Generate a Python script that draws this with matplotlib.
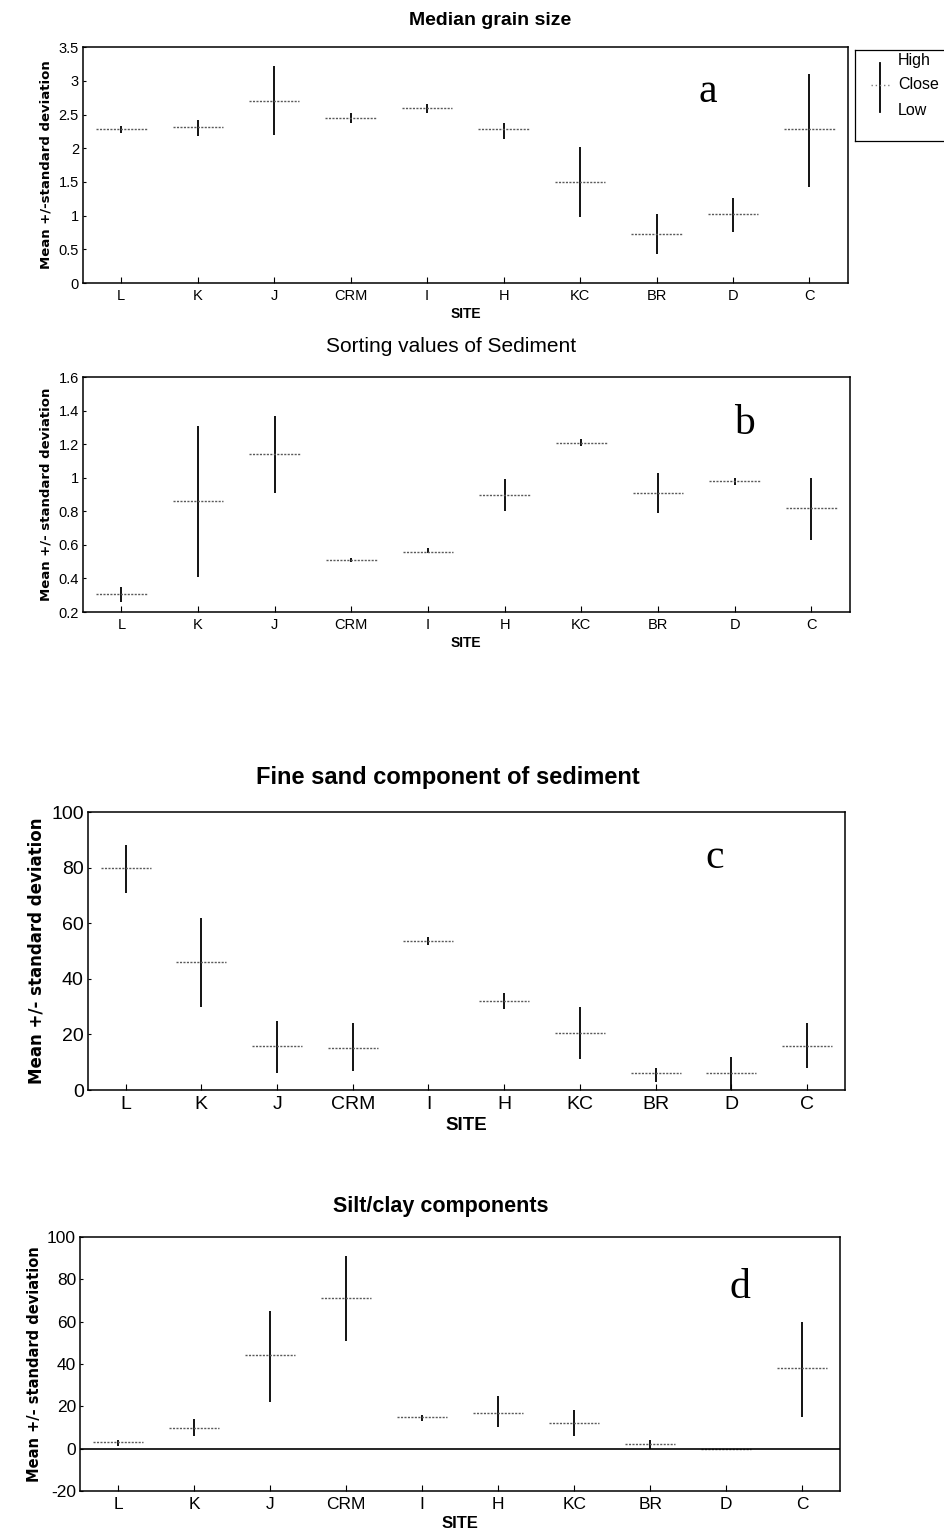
import matplotlib
matplotlib.use('Agg')
import matplotlib.pyplot as plt
import numpy as np

plt.rcParams['font.family'] = ['Liberation Sans', 'DejaVu Sans']

# 자료: 사이트별 평균 +/- 표준편차
sites = ['L', 'K', 'J', 'CRM', 'I', 'H', 'KC', 'BR', 'D', 'C']

# a. Median grain size
a_close = [2.28, 2.31, 2.70, 2.45, 2.60, 2.28, 1.50, 0.73, 1.02, 2.28]
a_high = [2.33, 2.42, 3.22, 2.52, 2.65, 2.38, 2.02, 1.03, 1.26, 3.10]
a_low = [2.22, 2.18, 2.20, 2.38, 2.53, 2.13, 0.98, 0.43, 0.76, 1.42]

# b. Sorting values
b_close = [0.31, 0.86, 1.14, 0.51, 0.56, 0.90, 1.21, 0.91, 0.98, 0.82]
b_high = [0.35, 1.31, 1.37, 0.52, 0.58, 0.99, 1.23, 1.03, 1.00, 1.00]
b_low = [0.26, 0.41, 0.91, 0.50, 0.55, 0.80, 1.19, 0.79, 0.96, 0.63]

# c. Fine sand
c_close = [80, 46, 16, 15, 53.5, 32, 20.5, 6, 6, 16]
c_high = [88, 62, 25, 24, 55, 35, 30, 8, 12, 24]
c_low = [71, 30, 6, 7, 52, 29, 11, 3, 0, 8]

# d. Silt/clay
d_close = [3, 9.5, 44, 71, 15, 17, 12, 2, 0, 38]
d_high = [4, 14, 65, 91, 16, 25, 18, 4, 0, 60]
d_low = [1, 6, 22, 51, 13, 10, 6, 0, 0, 15]

panels = [
    dict(title='Median grain size', close=a_close, high=a_high, low=a_low,
         ylim=(0, 3.5), yticks=[0, 0.5, 1, 1.5, 2, 2.5, 3, 3.5],
         yticklabels=['0', '0.5', '1', '1.5', '2', '2.5', '3', '3.5'],
         ylabel='Mean +/-standard deviation', letter='a', lpos=(0.817, 0.81),
         rect=[0.088, 0.8156, 0.810, 0.1537], fs=10.5, tfs=14, tw='bold',
         tpad=16, tx=0.532, lfs=9.5),
    dict(title='Sorting values of Sediment', close=b_close, high=b_high, low=b_low,
         ylim=(0.2, 1.6), yticks=[0.2, 0.4, 0.6, 0.8, 1.0, 1.2, 1.4, 1.6],
         yticklabels=['0.2', '0.4', '0.6', '0.8', '1', '1.2', '1.4', '1.6'],
         ylabel='Mean +/- standard deviation', letter='b', lpos=(0.863, 0.80),
         rect=[0.088, 0.6013, 0.812, 0.1530], fs=10.5, tfs=15, tw='normal',
         tpad=18, tx=0.48, lfs=9.5),
    dict(title='Fine sand component of sediment', close=c_close, high=c_high, low=c_low,
         ylim=(0, 100), yticks=[0, 20, 40, 60, 80, 100],
         yticklabels=['0', '20', '40', '60', '80', '100'],
         ylabel='Mean +/- standard deviation', letter='c', lpos=(0.828, 0.835),
         rect=[0.093, 0.2899, 0.802, 0.1811], fs=14, tfs=17, tw='bold',
         tpad=20, tx=0.475, lfs=12),
    dict(title='Silt/clay components', close=d_close, high=d_high, low=d_low,
         ylim=(-20, 100), yticks=[-20, 0, 20, 40, 60, 80, 100],
         yticklabels=['-20', '0', '20', '40', '60', '80', '100'],
         ylabel='Mean +/- standard deviation', letter='d', lpos=(0.868, 0.80),
         rect=[0.085, 0.0287, 0.805, 0.1655], fs=12.5, tfs=15.5, tw='bold',
         tpad=18, tx=0.475, lfs=10.5),
]

fig = plt.figure(figsize=(9.44, 15.35), dpi=100)
x = np.arange(len(sites))

for p in panels:
    ax = fig.add_axes(p['rect'])
    # high-low 세로선
    ax.vlines(x, p['low'], p['high'], color='black', linewidth=1.3)
    # close(평균) 가로선
    ax.hlines(p['close'], x - 0.33, x + 0.33, color='0.35', linewidth=1,
              linestyles=(0, (1.5, 1)))
    if p['letter'] == 'd':
        ax.axhline(0, color='black', linewidth=1.2)
    ax.set_xlim(-0.5, len(sites) - 0.5)
    ax.set_ylim(*p['ylim'])
    ax.set_xticks(x)
    ax.set_xticklabels(sites, fontsize=p['fs'])
    ax.set_yticks(p['yticks'])
    ax.set_yticklabels(p['yticklabels'], fontsize=p['fs'])
    ax.tick_params(axis='x', direction='in', length=4, pad=4)
    ax.tick_params(axis='y', direction='in', length=2, pad=3)
    ax.set_xlabel('SITE', fontsize=p['fs'] - 0.5, fontweight='bold', labelpad=3)
    ax.set_ylabel(p['ylabel'], fontsize=p['lfs'], fontweight='bold',
                  family='DejaVu Sans', labelpad=4)
    ax.set_title(p['title'], fontsize=p['tfs'], fontweight=p['tw'], pad=p['tpad'],
                 x=p['tx'])
    ax.text(p['lpos'][0], p['lpos'][1], p['letter'], transform=ax.transAxes,
            fontsize=30, family='Liberation Serif', ha='center', va='center')
    for s in ax.spines.values():
        s.set_linewidth(1.1)

# 범례 : High / Close / Low
lax = fig.add_axes([855 / 944, 1 - 141 / 1535, 0.12, 91 / 1535])
lax.set_xlim(0, 1)
lax.set_ylim(0, 1)
lax.set_xticks([])
lax.set_yticks([])
for s in lax.spines.values():
    s.set_linewidth(0.9)
lax.plot([0.22, 0.22], [0.32, 0.86], color='black', linewidth=1.3)
lax.plot([0.14, 0.30], [0.62, 0.62], color='0.5', linewidth=1, linestyle=(0, (1, 2)))
lax.text(0.38, 0.89, 'High', fontsize=11.5, va='center')
lax.text(0.38, 0.62, 'Close', fontsize=11.5, va='center')
lax.text(0.38, 0.33, 'Low', fontsize=11.5, va='center')

plt.savefig('out.png', dpi=100)
